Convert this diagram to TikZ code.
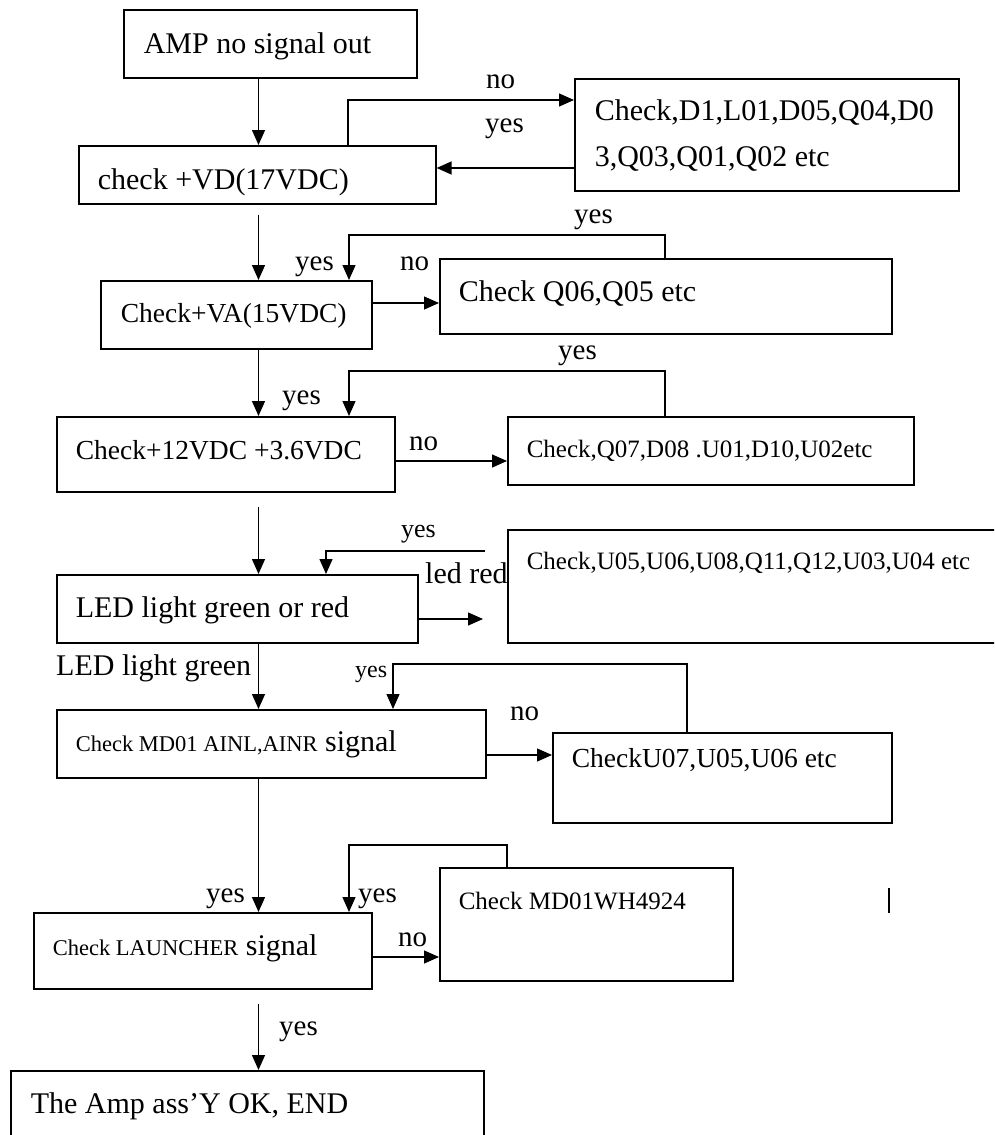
\documentclass[tikz,border=0pt]{standalone}
\usepackage{fontspec}
\setmainfont{Liberation Serif}
\usetikzlibrary{arrows.meta}
\newcommand{\fbig}{\fontsize{30}{46}\selectfont}
\newcommand{\fmid}{\fontsize{27.5}{33}\selectfont}
\newcommand{\fsml}{\fontsize{25}{30}\selectfont}
\newcommand{\ftny}{\fontsize{22.5}{27}\selectfont}
\tikzset{
  % Check boxes, placed by their top left corner
  chk/.style={draw,line width=1.6pt,anchor=north west,align=flush left,
              inner ysep=0pt,inner xsep=19pt,font=\fbig},
  % Connectors & labels
  fl/.style={-{Triangle[length=15pt,width=13pt]},line width=1.3pt},
  lb/.style={anchor=base west,inner sep=0pt,font=\fontsize{29}{35}\selectfont}
}

\begin{document}
\begin{tikzpicture}[x=1pt,y=-1pt]
  \fill[white] (0,0) rectangle (994,1135);
  \clip (0,0) rectangle (994,1135);

  % main column
  \node[chk,inner xsep=20pt,text width=253pt,text height=44pt,text depth=24pt] (amp) at (123,9) {AMP no signal out};
  \node[chk,text width=319pt,text height=44pt,text depth=14pt] (vd) at (78,145) {check +VD(17VDC)};
  \node[chk,inner xsep=20pt,text width=231pt,text height=42pt,text depth=26pt,font=\fmid] (va) at (100,280) {Check+VA(15VDC)};
  \node[chk,text width=300pt,text height=43pt,text depth=32pt,font=\fmid] (dc) at (56,416) {Check+12VDC +3.6VDC};
  \node[chk,text width=323pt,text height=43pt,text depth=25pt] (led) at (56,574) {LED light green or red};
  \node[chk,text width=391pt,text height=42pt,text depth=26pt] (md) at (56,709) {{\ftny Check MD01 AINL,AINR} signal};
  \node[chk,text width=300pt,text height=43pt,text depth=33pt] (lch) at (33,912) {{\ftny Check LAUNCHER} signal};
  \node[chk,inner xsep=20pt,text width=433pt,text height=43pt,text depth=47pt] (fin) at (10,1070) {The Amp ass'Y OK, END};

  % repair boxes
  \node[chk,inner xsep=20pt,text width=344pt,text height=42pt,text depth=70pt] (d1) at (574,78) {Check,D1,L01,D05,Q04,D0\\3,Q03,Q01,Q02 etc};
  \node[chk,text width=414pt,text height=43pt,text depth=32pt] (q06) at (439,258) {Check Q06,Q05 etc};
  \node[chk,text width=368pt,text height=41pt,text depth=27pt,font=\fsml] (q07) at (507,416) {Check,Q07,D08 .U01,D10,U02etc};
  \node[chk,text width=482pt,text height=40pt,text depth=73pt,font=\fsml] (u05) at (507,529) {Check,U05,U06,U08,Q11,Q12,U03,U04 etc};
  \node[chk,text width=301pt,text height=35pt,text depth=55pt,font=\fmid] (u07) at (552,732) {CheckU07,U05,U06 etc};
  \node[chk,text width=255pt,text height=42pt,text depth=71pt,font=\fsml] (wh) at (439,867) {Check MD01WH4924};

  \coordinate (spine) at (258.5,0);

  % AMP -> VD
  \draw[fl] (amp.south -| spine) -- (vd.north -| spine);
  % VD <-> D1
  \coordinate (vdno) at (348,100);
  \coordinate (vdyes) at (0,168);
  \draw[fl] (vd.north -| vdno) |- (d1.west |- vdno);
  \draw[fl] (d1.west |- vdyes) -- (vd.east |- vdyes);
  \node[lb] (no1) at (486,88) {no};
  \node[lb] (yes1) at (485,132) {yes};

  % VD -> VA, VA <-> Q06
  \draw[fl,shorten <=10pt] (vd.south -| spine) -- (va.north -| spine);
  \coordinate (vano) at (0,303);
  \coordinate (varet) at (665,235);
  \coordinate (vain) at (349,235);
  \draw[fl] (va.east |- vano) -- (q06.west |- vano);
  \draw[fl] (q06.north -| varet) |- (vain) -- (va.north -| vain);
  \node[lb] (yes2) at (574,223) {yes};
  \node[lb] (yes3) at (295,270) {yes};
  \node[lb] (no2) at (400,270) {no};

  % VA -> 12V, 12V <-> Q07
  \draw[fl] (va.south -| spine) -- (dc.north -| spine);
  \coordinate (dcno) at (0,461);
  \coordinate (dcret) at (665,371);
  \coordinate (dcin) at (349,371);
  \draw[fl] (dc.east |- dcno) -- (q07.west |- dcno);
  \draw[fl] (q07.north -| dcret) |- (dcin) -- (dc.north -| dcin);
  \node[lb] (yes4) at (558,359) {yes};
  \node[lb] (yes5) at (282,404) {yes};
  \node[lb] (no3) at (409,450) {no};

  % 12V -> LED, LED <-> U05
  \draw[fl,shorten <=14pt] (dc.south -| spine) -- (led.north -| spine);
  \coordinate (ledno) at (0,619);
  \coordinate (ledret) at (485,551);
  \coordinate (ledin) at (326,551);
  \draw[fl,shorten >=24pt] (led.east |- ledno) -- (u05.west |- ledno);
  \draw[fl] (ledret) -- (ledin) -- (led.north -| ledin);
  \node[lb,font=\fontsize{26}{30}\selectfont] (yes6) at (401,537) {yes};
  \node[lb,font=\fbig] (red) at (425,583) {led red};
  \node[lb,font=\fbig] (green) at (56,675) {LED light green};

  % LED -> MD01, MD01 <-> U07
  \draw[fl] (led.south -| spine) -- (md.north -| spine);
  \coordinate (mdno) at (0,755);
  \coordinate (mdret) at (687,664);
  \coordinate (mdin) at (393,664);
  \draw[fl] (md.east |- mdno) -- (u07.west |- mdno);
  \draw[fl] (u07.north -| mdret) |- (mdin) -- (md.north -| mdin);
  \node[lb,font=\fontsize{24}{28}\selectfont] (yes7) at (355,677) {yes};
  \node[lb] (no4) at (510,720) {no};

  % MD01 -> LAUNCHER, LAUNCHER <-> MD01WH
  \draw[fl] (md.south -| spine) -- (lch.north -| spine);
  \coordinate (lchno) at (0,957);
  \coordinate (lchret) at (507,845);
  \coordinate (lchin) at (349,845);
  \draw[fl] (lch.east |- lchno) -- (wh.west |- lchno);
  \draw[fl] (wh.north -| lchret) |- (lchin) -- (lch.north -| lchin);
  \node[lb] (yes8) at (206,902) {yes};
  \node[lb] (yes9) at (358,902) {yes};
  \node[lb] (no5) at (398,946) {no};

  % LAUNCHER -> END
  \draw[fl,shorten <=14pt] (lch.south -| spine) -- (fin.north -| spine);
  \node[lb] (yes10) at (279,1035) {yes};

  % stray mark
  \draw[line width=2pt] (889,888) -- (889,913);
\end{tikzpicture}
\end{document}
